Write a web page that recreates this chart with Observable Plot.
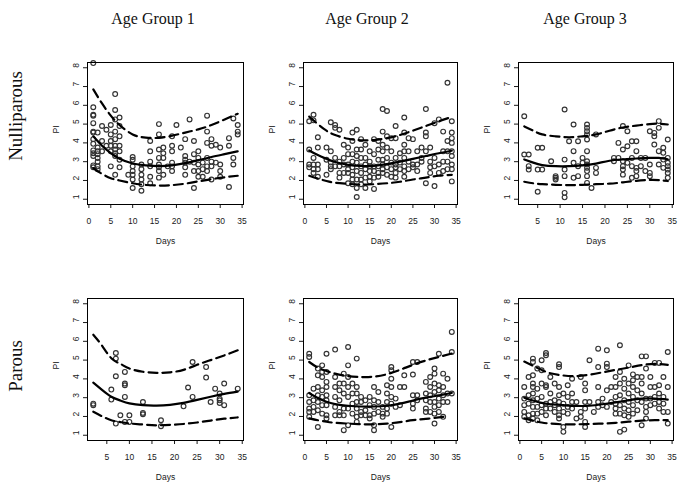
<!DOCTYPE html>
<html>
<head>
<meta charset="utf-8">
<script src="https://cdn.jsdelivr.net/npm/d3@7"></script>
<script src="https://cdn.jsdelivr.net/npm/@observablehq/plot@0.6"></script>
<style>
  html, body { margin: 0; padding: 0; background: #fff; }
  #wrap { position: relative; width: 683px; height: 493px; overflow: hidden; background: #fff; }
  .ttl { position: absolute; font-family: "Liberation Serif", "Times New Roman", serif; font-size: 16px; color: #111; white-space: nowrap; transform: translate(-50%, -50%); }
  .row { position: absolute; font-family: "Liberation Serif", "Times New Roman", serif; font-size: 19px; color: #111; white-space: nowrap; transform: translate(-50%, -50%) rotate(-90deg); }
  .pnl { position: absolute; }
</style>
</head>
<body>
<div id="wrap"></div>
<script>
// ---- Text ----
const colTitles = ["Age Group 1", "Age Group 2", "Age Group 3"];
const rowTitles = ["Nulliparous", "Parous"];
const xLabel = "Days";
const yLabel = "PI";
const yTicks = [1, 2, 3, 4, 5, 6, 7, 8];
const xTicksFull = [0, 5, 10, 15, 20, 25, 30, 35];
const xTicksFrom5 = [5, 10, 15, 20, 25, 30, 35];

// ---- Observations: [day, [PI values]] ----
const nulliAG1 = [
  [1,[8.25,5.9,5.5,5.45,5.05,4.6,4.55,4.2,3.95,3.6,3.45,3.3,2.8,2.7]],
  [2,[4.55,3.75,3.55,3.4,3.2,3.0,2.75,2.6]],
  [3,[4.9,4.1,3.55]],
  [4,[4.7,3.85]],
  [5,[4.95,4.45,4.1,3.85,3.55,2.75]],
  [6,[6.6,5.75,5.25,4.6,4.2,3.85,3.65,3.45,3.3,2.3]],
  [7,[5.35,4.9,4.35,3.85,3.55,3.1,2.7]],
  [9,[2.3]],
  [10,[3.25,3.1,2.75,2.5,2.3,2.05,1.6]],
  [12,[2.85,2.6,2.3,2.05,1.8,1.45]],
  [14,[4.1,3.55,3.0,2.75,2.2,1.85]],
  [16,[5.0,4.45,3.65,3.2,2.85,2.7,2.5,2.15]],
  [17,[3.75,3.45,3.2,2.3]],
  [18,[2.75]],
  [19,[4.35,3.85,3.55,2.95,2.75,2.5]],
  [20,[4.95]],
  [21,[3.75]],
  [22,[4.2,3.3,3.1,2.95,2.7,2.3]],
  [23,[5.25,3.0]],
  [24,[4.1,3.4,2.95,2.5,1.6]],
  [25,[3.55,3.2,2.85,2.5,2.2]],
  [26,[2.95,2.6,2.2]],
  [27,[5.45,4.6,4.0,3.2,2.75,2.5]],
  [28,[4.2,3.85,3.0,2.75,2.05]],
  [29,[3.9,2.95]],
  [30,[3.75,2.85,2.5,2.2]],
  [32,[4.25,3.85,1.65]],
  [33,[5.3,3.2,2.85]],
  [34,[4.95,4.6,4.45]]
];
const nulliAG2 = [
  [1,[5.15,3.65,2.85,2.7]],
  [2,[5.5,5.2,3.2,2.85,2.6,2.4]],
  [3,[4.3,3.75,2.85,2.6,2.2]],
  [5,[3.75,3.1,2.3]],
  [6,[5.1,3.55,2.95,2.75,2.6]],
  [7,[4.95,4.8,3.2,2.75]],
  [8,[4.7,3.0,2.75,2.4,2.15]],
  [9,[3.9,3.2,2.85,2.4]],
  [10,[3.75,3.4,2.85,2.6,2.4,1.85]],
  [11,[4.55,4.1,3.4,3.0,2.7,2.3,2.05,1.8]],
  [12,[4.7,3.65,3.3,2.95,2.5,2.05,1.6,1.12]],
  [13,[4.2,3.65,3.2,2.75,2.4,2.05,1.8]],
  [14,[3.9,3.2,2.85,2.6,2.15,1.6]],
  [15,[3.55,3.0,2.75,2.5,2.2,1.95]],
  [16,[4.2,3.4,2.75,2.5,2.15,1.55]],
  [17,[4.1,3.65,3.1,2.75,2.4,2.2]],
  [18,[5.8,4.6,3.9,3.55,3.1,2.85,2.6,2.4]],
  [19,[5.7,4.35,3.75,3.2,2.7,2.3]],
  [20,[4.25,3.55,2.95,2.6,2.2]],
  [21,[4.9,4.25,3.2,2.85,2.7,2.4,2.15]],
  [22,[3.45,2.95,2.6]],
  [23,[5.35,4.55,3.9,3.55,3.2,2.75,2.5,2.2]],
  [24,[4.25,3.55,3.0,2.6]],
  [25,[4.2,2.85,2.7]],
  [26,[3.55,2.85,2.5]],
  [27,[3.75,3.2,3.0]],
  [28,[5.8,4.55,4.35,3.55,1.85]],
  [29,[3.75,3.0,2.7,2.4]],
  [30,[5.05,3.2,2.75,1.7]],
  [31,[5.25,2.85,2.4]],
  [32,[4.6,3.55,3.0,2.5]],
  [33,[7.2,4.1,3.55,3.0,2.6]],
  [34,[5.15,4.55,4.25,4.0,3.55,3.3,2.85,2.6,1.95]]
];
const nulliAG3 = [
  [2,[5.42,3.38]],
  [3,[3.38,2.76,2.58]],
  [5,[3.74,2.58,1.4]],
  [6,[3.74,2.58]],
  [8,[3.02]],
  [9,[2.23,2.14,2.05]],
  [11,[5.78,3.11,2.58,2.23,1.34,1.1]],
  [12,[4.09]],
  [13,[4.98,3.56,2.94,2.14]],
  [14,[4.09,2.76,2.23]],
  [15,[3.2,2.94]],
  [16,[4.98,4.8,4.62,4.45,4.18,3.56,3.02,2.85,2.67,2.5,2.23,1.87]],
  [17,[1.6]],
  [18,[4.45,2.67,2.4]],
  [22,[3.2,3.02]],
  [23,[4.0,3.2]],
  [24,[4.9,3.65,3.02,2.76,2.58,2.31]],
  [25,[4.62,3.82,2.94]],
  [26,[4.09,3.2,2.76,2.14]],
  [27,[4.09,3.56,2.67,2.5,2.23]],
  [28,[3.2,2.76]],
  [29,[3.2,2.5]],
  [30,[4.62,2.85,2.4,2.23]],
  [31,[4.53,4.35,3.91]],
  [32,[5.16,4.8,3.56,2.85]],
  [33,[3.74,3.47,3.11,2.67]],
  [34,[4.18,3.2,2.94,2.76,2.58,2.4,2.14]]
];
const parousAG1 = [
  [2,[2.68,2.6]],
  [6,[3.43,2.9]],
  [7,[5.38,5.08,4.14,1.62]],
  [8,[2.06]],
  [9,[4.37,3.75,3.66,3.04,1.71]],
  [10,[2.06,1.71]],
  [13,[2.77,2.19,2.12]],
  [17,[1.8,1.48]],
  [22,[2.54]],
  [23,[3.54]],
  [24,[4.9,3.04]],
  [27,[4.63,4.07]],
  [28,[2.77]],
  [29,[3.48]],
  [30,[3.22,2.95,2.86,2.72]],
  [31,[3.75,2.6]],
  [34,[3.48]]
];
const parousAG2 = [
  [1,[5.34,5.17,3.13,2.77,2.42,2.24,1.98]],
  [2,[3.48,2.86,2.51,2.24]],
  [3,[4.55,4.19,3.57,3.13,2.77,2.33,1.44]],
  [4,[4.72,4.37,4.1,3.39,3.04,2.6,2.15]],
  [5,[5.34,4.37,3.84,3.57,3.13,2.86,2.6,2.06,1.89]],
  [7,[5.56,4.1,3.57,3.04,2.51,2.06]],
  [8,[3.75,3.39,2.86,2.24,2.06]],
  [9,[4.28,3.75,3.22,2.42,2.06,1.27]],
  [10,[5.7,4.72,4.1,3.57,3.04,2.42,1.53]],
  [11,[3.75,3.22,2.68,2.15]],
  [12,[5.08,3.57,3.22,2.77,2.42,1.98,1.71]],
  [13,[3.04,2.77,2.24,2.06]],
  [14,[2.86,2.33,2.06]],
  [15,[3.04,2.6,2.06,1.89]],
  [16,[3.57,2.86,2.51,2.15,1.53,1.27]],
  [17,[3.3,2.77,2.24]],
  [18,[2.51,2.15,1.98]],
  [19,[3.66,3.22,2.77,2.42,2.15]],
  [20,[4.63,4.46,4.01,3.57,3.04,2.68,1.44]],
  [21,[2.95,2.51]],
  [22,[3.57,2.6]],
  [23,[4.19,3.57]],
  [25,[4.9,4.23,3.13,2.68,2.42]],
  [26,[4.9,3.13,2.86]],
  [28,[3.84,3.22,2.86,2.42,2.24]],
  [29,[4.1,3.57,3.13,2.77,2.24]],
  [30,[4.55,4.28,3.75,3.3,2.77,2.51,2.15,1.62]],
  [31,[5.34,3.66,3.39,2.95,2.6,2.24]],
  [32,[4.28,3.57,3.13,2.77,1.98]],
  [33,[4.01,3.22,2.77]],
  [34,[6.5,5.43,3.22]]
];
const parousAG3 = [
  [1,[3.57,2.95,2.6,2.24,1.98]],
  [2,[4.1,3.13,2.68,2.06,1.8]],
  [3,[5.08,4.9,4.19,3.75,3.57,3.22,2.86,2.51,2.15,1.89]],
  [4,[4.55,3.48,2.95,2.51,2.15,1.8]],
  [5,[4.99,4.46,3.75,3.04,2.6,2.24]],
  [6,[5.38,5.26,3.66,3.57,2.68,2.42,2.06]],
  [7,[4.1,3.22,2.77,2.42]],
  [8,[3.75,2.86,2.6,2.24]],
  [9,[4.78,4.63,3.57,3.13,2.77,2.42,2.06,1.89]],
  [10,[3.22,2.68,2.24,1.44,1.18]],
  [11,[3.66,3.04,2.51,2.15]],
  [12,[4.01,3.22,2.77,2.42]],
  [13,[2.77,1.89]],
  [14,[4.1,2.24,1.98]],
  [15,[3.75,3.39,2.77,2.42,1.71,1.44]],
  [16,[4.99,2.77]],
  [17,[2.24]],
  [18,[5.61,4.63,3.57,2.77,2.51]],
  [19,[2.95,2.6]],
  [20,[5.52,4.81,4.63,3.39,2.51]],
  [21,[3.57,2.77]],
  [22,[4.1,3.57,3.04,2.68,2.42,2.15]],
  [23,[5.79,4.37,3.75,3.13,2.6,2.15,1.18]],
  [24,[4.01,3.48,2.86,2.42,2.06,1.3]],
  [25,[4.72,3.75,3.22,2.77,2.33,1.98]],
  [26,[4.24,3.93,3.57,3.04,2.6,2.15]],
  [27,[4.1,3.39,2.86,2.33]],
  [28,[5.2,4.1,3.75,3.22,2.77,1.53]],
  [29,[5.2,4.55,2.95,2.51,2.24,1.89]],
  [30,[4.1,3.57,2.95,2.6]],
  [31,[4.85,3.57,3.04,2.68]],
  [32,[4.85,3.66,3.22,2.77,2.42]],
  [33,[4.1,3.04,2.68,2.24]],
  [34,[5.43,3.57,2.24,1.62]]
];

// ---- Fitted curves (solid) and bands (dashed), read at these days ----
const daysA = [1, 3, 5, 7, 10, 13, 16, 19, 22, 25, 28, 31, 34];
const daysB = [2, 4, 6, 9, 12, 15, 18, 21, 24, 27, 30, 32, 34];
const daysC = [2, 4, 6, 8, 10, 13, 16, 19, 22, 25, 28, 31, 34];
const daysD = [1, 3, 5, 7, 10, 13, 16, 19, 22, 25, 28, 31, 33];

const fitN1 = [4.35, 3.85, 3.45, 3.15, 2.9, 2.8, 2.76, 2.8, 2.92, 3.08, 3.25, 3.4, 3.55];
const upN1  = [6.85, 6.1, 5.45, 4.95, 4.45, 4.28, 4.27, 4.38, 4.55, 4.72, 4.95, 5.25, 5.55];
const loN1  = [2.65, 2.35, 2.12, 2.0, 1.85, 1.76, 1.73, 1.75, 1.83, 1.95, 2.07, 2.17, 2.25];

const fitN2 = [3.6, 3.35, 3.15, 2.98, 2.83, 2.77, 2.78, 2.87, 3.0, 3.15, 3.3, 3.45, 3.58];
const upN2  = [5.4, 5.0, 4.65, 4.42, 4.22, 4.14, 4.15, 4.25, 4.42, 4.65, 4.9, 5.15, 5.38];
const loN2  = [2.25, 2.1, 1.97, 1.88, 1.82, 1.78, 1.8, 1.85, 1.93, 2.05, 2.15, 2.25, 2.3];

const fitN3 = [3.12, 2.95, 2.82, 2.76, 2.76, 2.8, 2.9, 3.05, 3.12, 3.17, 3.2, 3.2, 3.13];
const upN3  = [4.88, 4.65, 4.45, 4.35, 4.3, 4.35, 4.45, 4.65, 4.82, 4.92, 5.0, 5.02, 4.98];
const loN3  = [1.93, 1.85, 1.8, 1.77, 1.75, 1.77, 1.8, 1.83, 1.9, 1.98, 2.03, 2.02, 1.97];

const fitP1 = [3.8, 3.4, 3.05, 2.85, 2.7, 2.6, 2.58, 2.62, 2.72, 2.88, 3.05, 3.2, 3.32];
const upP1  = [6.35, 5.75, 5.1, 4.8, 4.55, 4.38, 4.32, 4.35, 4.48, 4.75, 5.0, 5.25, 5.52];
const loP1  = [2.25, 2.0, 1.8, 1.7, 1.63, 1.57, 1.53, 1.55, 1.6, 1.68, 1.78, 1.88, 1.95];

const fitP2 = [3.25, 2.98, 2.78, 2.66, 2.57, 2.53, 2.53, 2.57, 2.68, 2.85, 3.0, 3.12, 3.25];
const upP2  = [4.9, 4.6, 4.42, 4.28, 4.15, 4.1, 4.12, 4.25, 4.48, 4.75, 4.98, 5.17, 5.35];
const loP2  = [1.9, 1.8, 1.72, 1.66, 1.62, 1.59, 1.58, 1.62, 1.7, 1.8, 1.87, 1.95, 2.0];

const fitP3 = [3.0, 2.85, 2.72, 2.65, 2.6, 2.56, 2.57, 2.65, 2.75, 2.86, 2.95, 2.95, 2.9];
const upP3  = [4.92, 4.7, 4.48, 4.3, 4.18, 4.15, 4.22, 4.35, 4.48, 4.6, 4.73, 4.8, 4.75];
const loP3  = [1.9, 1.78, 1.68, 1.62, 1.58, 1.58, 1.6, 1.62, 1.66, 1.72, 1.78, 1.8, 1.8];

// ---- Layout ----
const wrap = document.getElementById("wrap");
const yDomain = [0.72, 8.28];
const ML = 47, MR = 10, MT = 8, MB = 50, BOXH = 142;

const colBox = [{left: 87, w: 156}, {left: 303, w: 154}, {left: 518, w: 155}];
const rowTop = [62, 298];

const panels = [
  {r: 0, c: 0, obs: nulliAG1, days: [daysA, daysA, daysA], fit: fitN1, up: upN1, lo: loN1, xd: [-0.32, 35.32], xt: xTicksFull},
  {r: 0, c: 1, obs: nulliAG2, days: [daysA, daysA, daysA], fit: fitN2, up: upN2, lo: loN2, xd: [-0.32, 35.32], xt: xTicksFull},
  {r: 0, c: 2, obs: nulliAG3, days: [daysB, daysB, daysB], fit: fitN3, up: upN3, lo: loN3, xd: [0.72, 35.28], xt: xTicksFrom5},
  {r: 1, c: 0, obs: parousAG1, days: [daysC, daysC, daysC], fit: fitP1, up: upP1, lo: loP1, xd: [0.72, 35.28], xt: xTicksFrom5},
  {r: 1, c: 1, obs: parousAG2, days: [daysA, daysA, daysD], fit: fitP2, up: upP2, lo: loP2, xd: [-0.32, 35.32], xt: xTicksFull},
  {r: 1, c: 2, obs: parousAG3, days: [daysA, daysA, daysA], fit: fitP3, up: upP3, lo: loP3, xd: [-0.32, 35.32], xt: xTicksFull}
];

const zip = (xs, ys) => xs.map((x, i) => ({day: x, pi: ys[i]}));

for (const p of panels) {
  const cb = colBox[p.c];
  const pts = p.obs.flatMap(([d, vs]) => vs.map(v => ({day: d, pi: v})));
  const chart = Plot.plot({
    width: cb.w + ML + MR,
    height: BOXH + MT + MB,
    marginLeft: ML, marginRight: MR, marginTop: MT, marginBottom: MB,
    x: {domain: p.xd},
    y: {domain: yDomain},
    style: {fontFamily: "'Liberation Sans', Arial, sans-serif", fontSize: "8.5px", color: "#1a1a1a", background: "transparent", overflow: "visible"},
    marks: [
      Plot.axisX({ticks: p.xt, tickSize: 4, tickPadding: 9, label: null, tickFormat: d => String(d)}),
      Plot.axisY({ticks: yTicks, tickSize: 4, label: null, tickFormat: () => ""}),
      Plot.text(yTicks, {y: d => d, frameAnchor: "left", dx: -11, rotate: -90, text: d => String(d)}),
      Plot.text([xLabel], {frameAnchor: "bottom", dy: 39, text: d => d}),
      Plot.text([yLabel], {frameAnchor: "left", dx: -31, rotate: -90, text: d => d}),
      Plot.dot(pts, {x: "day", y: "pi", r: 2.4, stroke: "#333", strokeWidth: 1.15, fill: "none"}),
      Plot.line(zip(p.days[0], p.fit), {x: "day", y: "pi", curve: "natural", stroke: "#000", strokeWidth: 2.2}),
      Plot.line(zip(p.days[1], p.up), {x: "day", y: "pi", curve: "natural", stroke: "#000", strokeWidth: 2.2, strokeDasharray: "9,5"}),
      Plot.line(zip(p.days[2], p.lo), {x: "day", y: "pi", curve: "natural", stroke: "#000", strokeWidth: 2.2, strokeDasharray: "9,5"}),
      Plot.frame({stroke: "#000", strokeWidth: 1})
    ]
  });
  const holder = document.createElement("div");
  holder.className = "pnl";
  holder.style.left = (cb.left - ML) + "px";
  holder.style.top = (rowTop[p.r] - MT) + "px";
  holder.appendChild(chart);
  wrap.appendChild(holder);
}

// Column titles
const titleX = [153, 367, 585];
colTitles.forEach((t, i) => {
  const el = document.createElement("div");
  el.className = "ttl";
  el.textContent = t;
  el.style.left = titleX[i] + "px";
  el.style.top = "19px";
  wrap.appendChild(el);
});
// Row titles
const rowY = [116, 366];
rowTitles.forEach((t, i) => {
  const el = document.createElement("div");
  el.className = "row";
  el.textContent = t;
  el.style.left = "16px";
  el.style.top = rowY[i] + "px";
  wrap.appendChild(el);
});
</script>
</body>
</html>
